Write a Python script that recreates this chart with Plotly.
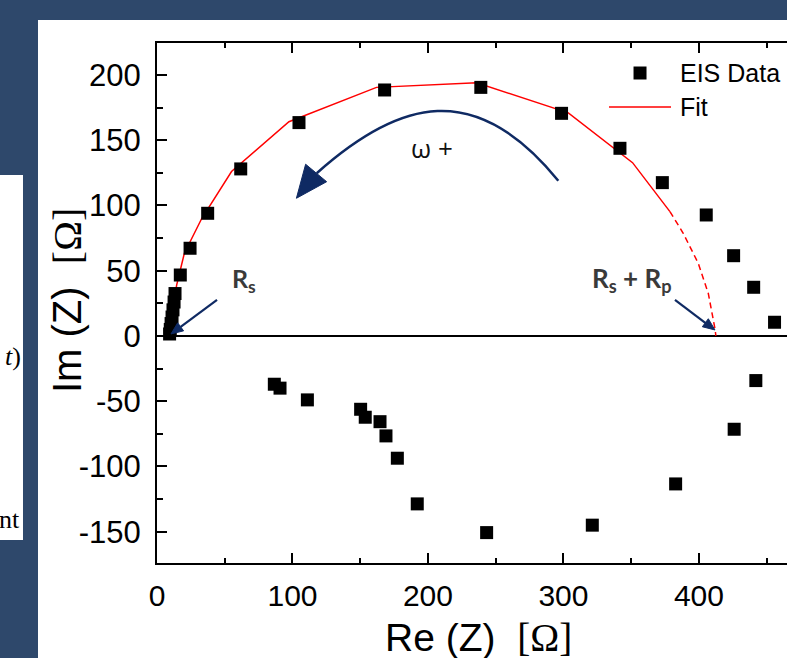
import plotly.graph_objects as go

# ---- data ----
upper_re = [9.3, 9.8, 10.4, 11.1, 11.8, 12.6, 13.3, 17.2, 24.4, 37.4, 61.8, 104.8,
            168.0, 239.0, 298.6, 341.7, 373.0, 405.4, 425.6, 440.4, 455.8]
upper_im = [1.5, 5.0, 9.5, 14.5, 20.0, 26.0, 32.5, 46.7, 67.2, 94.0, 128.0, 163.5,
            188.5, 190.5, 170.6, 143.8, 117.5, 92.7, 61.5, 37.3, 10.5]
lower_re = [86.6, 90.8, 111.0, 150.3, 153.7, 164.6, 169.0, 177.4, 192.1, 243.3,
            321.3, 382.8, 426.0, 442.0]
lower_im = [-37.0, -40.0, -49.0, -56.2, -62.3, -65.7, -76.6, -93.7, -128.7, -150.7,
            -145.0, -113.4, -71.5, -34.2]

fit_re = [9.4, 11.5, 14.5, 20.2, 33.0, 55.0, 97.4, 162.0, 236.0, 303.6, 351.0, 378.6]
fit_im = [0.5, 20.0, 39.0, 63.4, 90.0, 126.0, 164.2, 190.5, 194.0, 171.0, 132.8, 95.3]
ext_re = [378.6, 388.4, 399.5, 406.9, 412.0, 412.5]
ext_im = [95.3, 78.7, 55.7, 32.7, 4.6, 0.0]

x_ticks = [0, 100, 200, 300, 400]
y_ticks = [-150, -100, -50, 0, 50, 100, 150, 200]

NAVY_BG = "#2e486b"
NAVY = "#0f2a63"
FONT = "Liberation Sans, Arial, sans-serif"

fig = go.Figure()
fig.add_trace(go.Scatter(x=fit_re, y=fit_im, mode="lines", name="Fit",
                         line=dict(color="#ff0000", width=1.5), showlegend=False))
fig.add_trace(go.Scatter(x=ext_re, y=ext_im, mode="lines", name="Fit (extrapolated)",
                         line=dict(color="#ff0000", width=1.5, dash="6px,4px"),
                         showlegend=False))
fig.add_trace(go.Scatter(x=upper_re + lower_re, y=upper_im + lower_im, mode="markers",
                         name="EIS Data", showlegend=False,
                         marker=dict(symbol="square", size=13, color="black",
                                     line=dict(width=0))))

shapes = []
# slide background panels
shapes.append(dict(type="rect", xref="paper", yref="paper", x0=-0.1889, x1=1.05,
                   y0=-0.25, y1=1.0442, fillcolor="white", line=dict(width=0),
                   layer="below"))
shapes.append(dict(type="rect", xref="paper", yref="paper", x0=-0.26, x1=-0.2127,
                   y0=0.0442, y1=0.7462, fillcolor="white", line=dict(width=0),
                   layer="below"))
# curved omega arrow
shapes.append(dict(type="path", xref="x", yref="y",
                   path="M 296.2,119 C 235.1,197.2 178.8,181.2 117.9,124.7",
                   line=dict(color=NAVY, width=2.5)))
shapes.append(dict(type="path", xref="x", yref="y",
                   path="M 102.9,105.5 L 109.7,131.6 L 125.2,118.2 Z",
                   fillcolor=NAVY, line=dict(color=NAVY, width=1)))
# R_s pointer
shapes.append(dict(type="line", xref="x", yref="y", x0=44.3, y0=27.6, x1=17.45, y1=7.0,
                   line=dict(color=NAVY, width=2.2)))
shapes.append(dict(type="path", xref="x", yref="y",
                   path="M 10.33,1.53 L 19.63,3.91 L 15.28,10.04 Z",
                   fillcolor=NAVY, line=dict(color=NAVY, width=1)))
# R_s + R_p pointer
shapes.append(dict(type="line", xref="x", yref="y", x0=382.3, y0=27.6, x1=404.7, y1=10.1,
                   line=dict(color=NAVY, width=2.2)))
shapes.append(dict(type="path", xref="x", yref="y",
                   path="M 411.81,4.6 L 402.51,7.05 L 406.94,13.18 Z",
                   fillcolor=NAVY, line=dict(color=NAVY, width=1)))
# legend symbols
shapes.append(dict(type="line", xref="paper", yref="paper", x0=0.7175, x1=0.8159,
                   y0=0.8769, y1=0.8769, line=dict(color="#ff0000", width=1.5)))
shapes.append(dict(type="rect", xref="paper", yref="paper",
                   x0=0.7667 - 6.5 / 630, x1=0.7667 + 6.5 / 630,
                   y0=0.9423 - 6.5 / 520, y1=0.9423 + 6.5 / 520,
                   fillcolor="black", line=dict(width=0)))

omega = "<span style='font-family:Liberation Serif, serif'>[Ω]</span>"

annotations = [
    dict(x=0.827, y=0.9423, xref="paper", yref="paper", text="EIS Data",
         showarrow=False, xanchor="left", yanchor="middle",
         font=dict(family=FONT, size=25, color="black")),
    dict(x=0.827, y=0.8769, xref="paper", yref="paper", text="Fit",
         showarrow=False, xanchor="left", yanchor="middle",
         font=dict(family=FONT, size=25, color="black")),
    dict(x=203, y=144, xref="x", yref="y", text="ω +", showarrow=False,
         font=dict(family="Open Sans, sans-serif", size=26, color="#111111")),
    dict(x=64, y=43, xref="x", yref="y", text="<b>R<sub>s</sub></b>", showarrow=False,
         font=dict(family="Lato, sans-serif", size=25, color="#3a3a3a")),
    dict(x=350.6, y=43, xref="x", yref="y", text="<b>R<sub>s</sub> + R<sub>p</sub></b>",
         showarrow=False, font=dict(family="Lato, sans-serif", size=26, color="#3a3a3a")),
    # axis titles
    dict(x=(478 - 157) / 630, y=(563 - 637) / 520, xref="paper", yref="paper",
         text="Re (Z)\u00a0\u00a0" + omega, showarrow=False,
         xanchor="center", yanchor="middle",
         font=dict(family=FONT, size=39, color="black")),
    dict(x=(67 - 157) / 630, y=(563 - 301) / 520, xref="paper", yref="paper",
         text="Im (Z)\u00a0\u00a0" + omega, showarrow=False, textangle=-90,
         xanchor="center", yanchor="middle",
         font=dict(family=FONT, size=40, color="black")),
    # slide text fragments at the far left
    dict(x=-0.2127, y=(563 - 356) / 520, xref="paper", yref="paper", text="<i>t</i>)",
         showarrow=False, xanchor="right", yanchor="middle",
         font=dict(family="Liberation Serif, serif", size=26, color="black")),
    dict(x=-0.2143, y=(563 - 519) / 520, xref="paper", yref="paper", text="nt",
         showarrow=False, xanchor="right", yanchor="middle",
         font=dict(family="Liberation Serif, serif", size=26, color="black")),
]

fig.update_layout(
    width=787, height=658,
    margin=dict(l=157, r=0, t=43, b=95, pad=0),
    paper_bgcolor=NAVY_BG, plot_bgcolor="white",
    shapes=shapes, annotations=annotations,
    font=dict(family=FONT, color="black"),
    xaxis=dict(range=[0, 465], tickvals=x_ticks, ticktext=[str(v) for v in x_ticks],
               ticks="inside", ticklen=10, tickwidth=2, tickcolor="black",
               minor=dict(dtick=50, ticks="inside", ticklen=5, tickwidth=2,
                          tickcolor="black"),
               showline=True, linewidth=2, linecolor="black", mirror="ticks",
               showgrid=False, zeroline=False,
               tickfont=dict(family=FONT, size=30, color="black"),
               ticklabelstandoff=5),
    yaxis=dict(range=[-174, 224.5], tickvals=y_ticks, ticktext=[str(v) for v in y_ticks],
               ticks="inside", ticklen=10, tickwidth=2, tickcolor="black",
               minor=dict(dtick=25, ticks="inside", ticklen=6, tickwidth=2,
                          tickcolor="black"),
               showline=True, linewidth=2, linecolor="black",
               showgrid=False, zeroline=True, zerolinecolor="black", zerolinewidth=2,
               tickfont=dict(family=FONT, size=31, color="black"),
               ticklabelstandoff=8),
)

fig.write_html("out.html")
